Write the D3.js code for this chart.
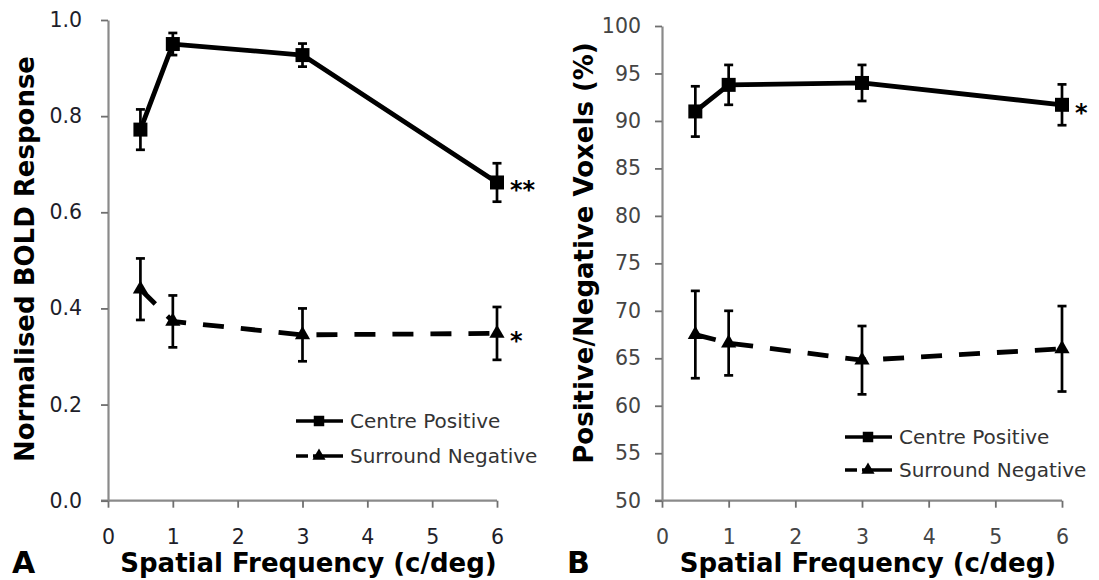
<!DOCTYPE html>
<html>
<head>
<meta charset="utf-8">
<script src="https://cdn.jsdelivr.net/npm/d3@7"></script>
<style>
  html, body { margin: 0; padding: 0; background: #fff; }
  svg { display: block; font-family: "DejaVu Sans", Verdana, sans-serif; }
</style>
</head>
<body>
<svg id="chart" width="1099" height="580"></svg>
<script>
// Spatial frequencies tested (c/deg)
const freqs = [0.5, 1, 3, 6];
const xTicks = [0, 1, 2, 3, 4, 5, 6];
const seriesNames = ["Centre Positive", "Surround Negative"];

// Panel A: normalised BOLD response (mean and error)
const boldCentre = [0.772, 0.950, 0.927, 0.662];
const boldCentreErr = [0.042, 0.023, 0.024, 0.040];
const boldSurround = [0.440, 0.373, 0.345, 0.348];
const boldSurroundErr = [0.064, 0.054, 0.055, 0.055];
const boldTicks = [0, 0.2, 0.4, 0.6, 0.8, 1.0];
const boldStars = ["**", "*"];

// Panel B: percentage of positive / negative voxels
const voxelCentre = [91.0, 93.8, 94.0, 91.7];
const voxelCentreErr = [2.65, 2.1, 1.9, 2.15];
const voxelSurround = [67.5, 66.6, 64.8, 66.0];
const voxelSurroundErr = [4.6, 3.4, 3.6, 4.5];
const voxelTicks = [50, 55, 60, 65, 70, 75, 80, 85, 90, 95, 100];
const voxelStars = ["*", ""];

const svg = d3.select("#chart");
const AXIS_GREY = "#8a8a8a";

function drawPanel(p) {
  const g = svg.append("g");
  const x = d3.scaleLinear().domain([0, 6]).range([p.x0, p.x1]);
  const y = d3.scaleLinear().domain(p.yDomain).range([p.yBottom, p.yTop]);

  // x axis
  const xAxis = g.append("g")
    .attr("transform", `translate(0,${p.yBottom})`)
    .call(d3.axisBottom(x).tickValues(xTicks).tickFormat(d3.format("d"))
      .tickSize(7).tickSizeOuter(0).tickPadding(0));
  xAxis.select(".domain").attr("stroke", AXIS_GREY).attr("stroke-width", 2.2)
    .attr("d", `M${p.x0 - 7},0H${p.x1}`);
  xAxis.selectAll(".tick line").attr("stroke", "#6f6f6f").attr("stroke-width", 1.8);
  xAxis.selectAll(".tick text").attr("y", 36).attr("dy", "0.35em")
    .attr("fill", p.tickColor).attr("font-size", 20.5);

  // y axis
  const yAxis = g.append("g")
    .attr("transform", `translate(${p.x0},0)`)
    .call(d3.axisLeft(y).tickValues(p.yTicks).tickFormat(p.yFormat)
      .tickSize(7).tickSizeOuter(0).tickPadding(0));
  yAxis.select(".domain").attr("stroke", AXIS_GREY).attr("stroke-width", 2.2);
  yAxis.selectAll(".tick line").attr("stroke", "#6f6f6f").attr("stroke-width", 1.8);
  yAxis.selectAll(".tick text").attr("x", -(p.x0 - p.yLabelRight))
    .attr("fill", p.tickColor).attr("font-size", 20.5);
  yAxis.selectAll("text").attr("font-family", "DejaVu Sans, Verdana, sans-serif");
  xAxis.selectAll("text").attr("font-family", "DejaVu Sans, Verdana, sans-serif");

  const series = [
    { name: seriesNames[0], v: p.centre, e: p.centreErr, dash: null, marker: "square" },
    { name: seriesNames[1], v: p.surround, e: p.surroundErr, dash: "21,17", marker: "triangle" }
  ];

  const line = d3.line().x(d => x(d.f)).y(d => y(d.v));
  const symSquare = d3.symbol().type(d3.symbolSquare).size(196);
  const symTri = d3.symbol().type(d3.symbolTriangle).size(100);

  series.forEach((s, si) => {
    const pts = freqs.map((f, i) => ({ f, v: s.v[i], e: s.e[i] }));
    // connecting line
    g.append("path").datum(pts)
      .attr("d", line)
      .attr("fill", "none").attr("stroke", "#000").attr("stroke-width", 4.8)
      .attr("stroke-dasharray", s.dash)
      .attr("stroke-linejoin", "round");
    // error bars
    const eb = g.append("g").selectAll("g").data(pts).join("g");
    eb.append("line")
      .attr("x1", d => x(d.f)).attr("x2", d => x(d.f))
      .attr("y1", d => y(d.v - d.e)).attr("y2", d => y(d.v + d.e))
      .attr("stroke", "#000").attr("stroke-width", 2.7);
    [-1, 1].forEach(sign => {
      eb.append("line")
        .attr("x1", d => x(d.f) - 4.5).attr("x2", d => x(d.f) + 4.5)
        .attr("y1", d => y(d.v + sign * d.e)).attr("y2", d => y(d.v + sign * d.e))
        .attr("stroke", "#000").attr("stroke-width", 2.7);
    });
    // markers
    g.append("g").selectAll("path").data(pts).join("path")
      .attr("transform", d => `translate(${x(d.f)},${y(d.v)})`)
      .attr("d", s.marker === "square" ? symSquare : symTri)
      .attr("fill", "#000");

    // significance stars next to the last point
    const star = p.stars[si];
    if (star) {
      const last = pts[pts.length - 1];
      g.append("text")
        .attr("x", x(last.f) + 13).attr("y", y(last.v) + 16)
        .attr("font-size", 24).attr("font-weight", "bold").attr("fill", "#000")
        .text(star);
    }

    // legend row
    const ly = p.legendY[si];
    g.append("line")
      .attr("x1", p.legendX).attr("x2", p.legendX + 47)
      .attr("y1", ly).attr("y2", ly)
      .attr("stroke", "#000").attr("stroke-width", 3.6)
      .attr("stroke-dasharray", s.dash ? "12,5,30" : null);
    g.append("path")
      .attr("transform", `translate(${p.legendX + 23},${ly})`)
      .attr("d", s.marker === "square" ? d3.symbol().type(d3.symbolSquare).size(110)()
                                       : d3.symbol().type(d3.symbolTriangle).size(75)())
      .attr("fill", "#000");
    g.append("text")
      .attr("x", p.legendX + 54).attr("y", ly).attr("dy", "0.35em")
      .attr("font-size", 20).attr("fill", "#333")
      .text(s.name);
  });

  // axis titles
  g.append("text")
    .attr("x", (p.x0 + p.x1) / 2 + 6).attr("y", 572)
    .attr("text-anchor", "middle").attr("font-size", 26).attr("font-weight", "bold")
    .attr("fill", "#000")
    .text("Spatial Frequency (c/deg)");
  g.append("text")
    .attr("transform", `translate(${p.yTitleX},${p.yTitleY}) rotate(-90)`)
    .attr("text-anchor", "middle").attr("font-size", 26).attr("font-weight", "bold")
    .attr("fill", "#000")
    .text(p.yTitle);
  // panel letter
  g.append("text")
    .attr("x", p.letterX).attr("y", 573)
    .attr("font-size", 30).attr("font-weight", "bold").attr("fill", "#000")
    .text(p.letter);
}

drawPanel({
  x0: 108, x1: 497, yBottom: 500.7, yTop: 20, yDomain: [0, 1],
  yTicks: boldTicks, yFormat: d3.format(".1f"), yLabelRight: 82,
  tickColor: "#1e1e2a",
  centre: boldCentre, centreErr: boldCentreErr,
  surround: boldSurround, surroundErr: boldSurroundErr,
  stars: boldStars,
  legendX: 296, legendY: [421, 456],
  yTitle: "Normalised BOLD Response", yTitleX: 34, yTitleY: 259,
  letter: "A", letterX: 12
});

drawPanel({
  x0: 662, x1: 1062, yBottom: 500.7, yTop: 26, yDomain: [50, 100],
  yTicks: voxelTicks, yFormat: d3.format("d"), yLabelRight: 641,
  tickColor: "#444",
  centre: voxelCentre, centreErr: voxelCentreErr,
  surround: voxelSurround, surroundErr: voxelSurroundErr,
  stars: voxelStars,
  legendX: 845, legendY: [437, 470],
  yTitle: "Positive/Negative Voxels (%)", yTitleX: 593, yTitleY: 253,
  letter: "B", letterX: 567
});
</script>
</body>
</html>
